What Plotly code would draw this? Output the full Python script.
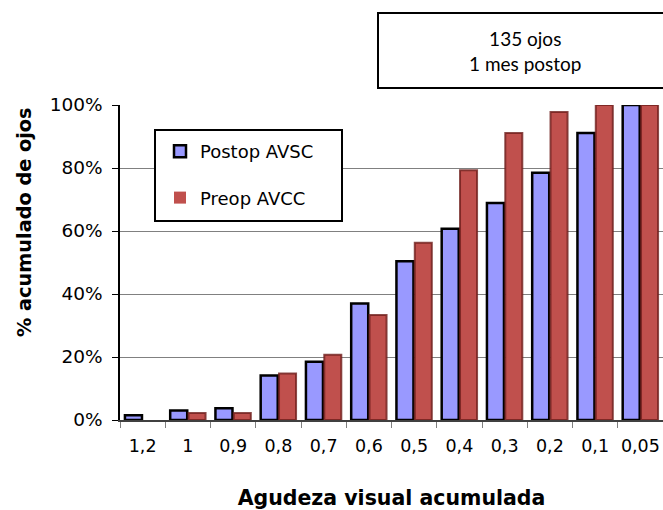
import plotly.graph_objects as go

# Visual acuity categories (decimal scale, Spanish notation)
categorias = ["1,2", "1", "0,9", "0,8", "0,7", "0,6", "0,5", "0,4", "0,3", "0,2", "0,1", "0,05"]

# Cumulative percentage of eyes reaching each acuity level
postop_avsc = [1.5, 3.0, 3.7, 14.1, 18.5, 37.0, 50.4, 60.7, 68.9, 78.5, 91.1, 100.0]
preop_avcc = [0.0, 2.2, 2.2, 14.8, 20.7, 33.3, 56.3, 79.3, 91.1, 97.8, 100.0, 100.0]

y_ticks = [0, 20, 40, 60, 80, 100]
y_tick_labels = ["0%", "20%", "40%", "60%", "80%", "100%"]

W, H = 663, 510
L, R, T, B = 120, 0, 105, 90
pw, ph = W - L - R, H - T - B


def px_x(x):
    return (x - L) / pw


def px_y(y):
    return (H - B - y) / ph


font_v = "DejaVu Sans, Verdana, sans-serif"

# empty bars get no outline
red_outline = [2 if v > 0 else 0 for v in preop_avcc]

fig = go.Figure()
fig.add_bar(
    x=categorias, y=postop_avsc, name="Postop AVSC", legendgroup="a",
    marker=dict(color="#9999FF", line=dict(color="#000000", width=2.5)),
)
fig.add_bar(
    x=categorias, y=preop_avcc, name="Preop AVCC", legendgroup="b",
    marker=dict(color="#C0504D", line=dict(color="rgba(110,30,28,0.8)", width=red_outline)),
)

fig.update_layout(
    width=W, height=H,
    margin=dict(l=L, r=R, t=T, b=B, pad=0),
    paper_bgcolor="white", plot_bgcolor="white",
    barmode="group", bargap=0.19, bargroupgap=0.07,
    font=dict(family=font_v, size=17, color="#000000"),
    showlegend=True,
    legend=dict(
        x=px_x(160), y=px_y(133), xanchor="left", yanchor="top",
        bgcolor="rgba(0,0,0,0)", borderwidth=0,
        font=dict(family=font_v, size=18, color="#000000"),
        tracegroupgap=20, traceorder="grouped",
    ),
    xaxis=dict(
        type="category", tickson="boundaries", ticks="outside", ticklen=6,
        tickcolor="#7f7f7f", showline=True, linecolor="#404040", linewidth=1.5,
        showgrid=False, tickfont=dict(size=17.5), tickangle=0, ticklabelstandoff=9,
        title=dict(text="<b>Agudeza visual acumulada</b>", font=dict(size=20.5), standoff=37),
    ),
    yaxis=dict(
        range=[0, 100], tickmode="array", tickvals=y_ticks, ticktext=y_tick_labels,
        ticks="outside", ticklen=6,
        tickcolor="#000000", showline=True, linecolor="#000000", linewidth=1.5,
        showgrid=True, gridcolor="#808080", gridwidth=1, zeroline=False,
        tickfont=dict(size=18.5), ticklabelstandoff=6,
    ),
    shapes=[
        # legend frame
        dict(type="rect", xref="paper", yref="paper", layer="above",
             x0=px_x(155), x1=px_x(342), y0=px_y(221), y1=px_y(130),
             fillcolor="white", line=dict(color="#000000", width=2)),
        # info box
        dict(type="rect", xref="paper", yref="paper", layer="above",
             x0=px_x(378), x1=px_x(680), y0=px_y(88), y1=px_y(13),
             fillcolor="white", line=dict(color="#000000", width=2)),
    ],
    annotations=[
        dict(text="135 ojos<br>1 mes postop", xref="paper", yref="paper",
             x=px_x(525), y=px_y(51), xanchor="center", yanchor="middle",
             showarrow=False, font=dict(family="Lato, Open Sans, sans-serif", size=19)),
        dict(text="<b>% acumulado de ojos</b>", xref="paper", yref="paper",
             x=px_x(24), y=px_y(222), xanchor="center", yanchor="middle",
             textangle=-90, showarrow=False, font=dict(family=font_v, size=19.3)),
    ],
)

fig.write_html("out.html")
